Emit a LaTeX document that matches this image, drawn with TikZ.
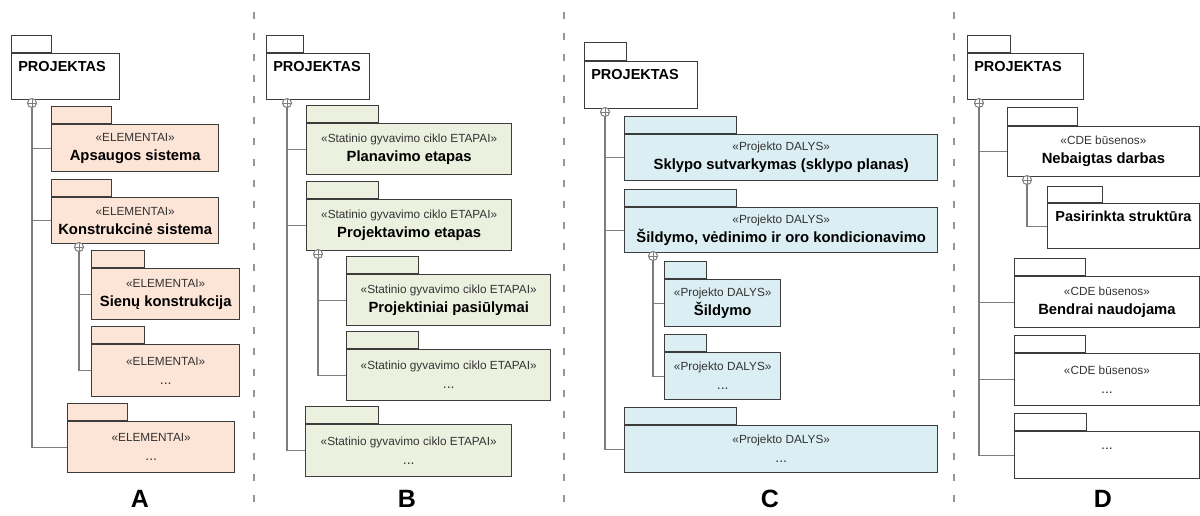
\documentclass[tikz,border=0pt]{standalone}
\usepackage{fontspec}
\setmainfont{Liberation Sans}
\usetikzlibrary{positioning}
\definecolor{elemfill}{RGB}{252,228,214}
\definecolor{etapfill}{RGB}{235,241,222}
\definecolor{dalfill}{RGB}{218,238,243}
\definecolor{pkgline}{RGB}{60,60,60}
\definecolor{linkline}{RGB}{125,125,125}
\definecolor{sepline}{RGB}{150,150,150}
\newcommand{\pkgname}[1]{{\fontsize{14.8}{19}\selectfont\bfseries\color{black}#1}}
\newcommand{\pkgdots}{{\fontsize{14}{19}\selectfont ...}}

\begin{document}
\begin{tikzpicture}[x=1pt,y=-1pt,semithick,font=\fontsize{11.8}{19}\selectfont]
	\tikzstyle{pkgbody}=[draw=pkgline,fill=white,line width=1.4pt,anchor=north west,inner sep=0pt,align=center,text=black!80]
	\tikzstyle{pkgtab}=[draw=pkgline,fill=white,line width=1.4pt,inner sep=0pt,minimum height=17pt]
	\tikzstyle{rootname}=[font=\fontsize{14.5}{18}\selectfont\bfseries,inner sep=0pt]
	\tikzstyle{oplus}=[circle,draw=linkline,fill=white,line width=1pt,inner sep=0pt,minimum size=9pt,
		path picture={\draw[linkline,line width=0.8pt] (path picture bounding box.north) -- (path picture bounding box.south)
			(path picture bounding box.west) -- (path picture bounding box.east);}]
	\tikzstyle{branch}=[draw=linkline,line width=1.2pt]
	\tikzstyle{divider}=[draw=sepline,line width=1.2pt,dash pattern=on 7pt off 14pt]
	\tikzstyle{panelname}=[font=\fontsize{25}{28}\selectfont\bfseries,inner sep=0pt]
	
	\useasboundingbox (0,0) rectangle (1200,515);
	
	\draw[divider] (254,12) -- (254,505);
	\draw[divider] (564,12) -- (564,505);
	\draw[divider] (954,12) -- (954,505);
	
	% A
	\node[pkgbody,minimum width=108pt,minimum height=46pt] (pA) at (11,53) {};
	\node[pkgtab,minimum width=40pt]   (pAt) [above right=0pt of pA.north west] {};
	\node[rootname]                    (pAn) [below right=8pt and 7pt of pA.north west] {PROJEKTAS};
	\node[pkgbody,fill=elemfill,minimum width=167pt,minimum height=47pt] (a1) at (51,124) {«ELEMENTAI»\\\pkgname{Apsaugos sistema}};
	\node[pkgtab,fill=elemfill,minimum width=60pt] (a1t) [above right=0pt of a1.north west] {};
	\node[pkgbody,fill=elemfill,minimum width=167pt,minimum height=46pt] (a2) at (51,197) {«ELEMENTAI»\\\pkgname{Konstrukcinė sistema}};
	\node[pkgtab,fill=elemfill,minimum width=60pt] (a2t) [above right=0pt of a2.north west] {};
	\node[pkgbody,fill=elemfill,minimum width=148pt,minimum height=51pt] (a3) at (91,268) {«ELEMENTAI»\\\pkgname{Sienų konstrukcija}};
	\node[pkgtab,fill=elemfill,minimum width=53pt] (a3t) [above right=0pt of a3.north west] {};
	\node[pkgbody,fill=elemfill,minimum width=148pt,minimum height=52pt] (a4) at (91,344) {«ELEMENTAI»\\\pkgdots};
	\node[pkgtab,fill=elemfill,minimum width=53pt] (a4t) [above right=0pt of a4.north west] {};
	\node[pkgbody,fill=elemfill,minimum width=167pt,minimum height=51pt] (a5) at (67,421) {«ELEMENTAI»\\\pkgdots};
	\node[pkgtab,fill=elemfill,minimum width=60pt] (a5t) [above right=0pt of a5.north west] {};
	\draw[branch] (32,103) |- (a1.west) (32,103) |- (a2.west) (32,103) |- (a5.west);
	\draw[branch] (79,247) |- (a3.west) (79,247) |- (a4.west);
	\node[oplus] (qA)  at (32,103) {};
	\node[oplus] (qA2) at (79,247) {};
	\node[panelname] (labA) at (140,499) {A};
	
	% B
	\node[pkgbody,minimum width=103pt,minimum height=46pt] (pB) at (266,53) {};
	\node[pkgtab,minimum width=37pt]   (pBt) [above right=0pt of pB.north west] {};
	\node[rootname]                    (pBn) [below right=8pt and 7pt of pB.north west] {PROJEKTAS};
	\node[pkgbody,fill=etapfill,minimum width=205pt,minimum height=51pt] (b1) at (306,123) {«Statinio gyvavimo ciklo ETAPAI»\\\pkgname{Planavimo etapas}};
	\node[pkgtab,fill=etapfill,minimum width=72pt] (b1t) [above right=0pt of b1.north west] {};
	\node[pkgbody,fill=etapfill,minimum width=205pt,minimum height=51pt] (b2) at (306,199) {«Statinio gyvavimo ciklo ETAPAI»\\\pkgname{Projektavimo etapas}};
	\node[pkgtab,fill=etapfill,minimum width=72pt] (b2t) [above right=0pt of b2.north west] {};
	\node[pkgbody,fill=etapfill,minimum width=204pt,minimum height=51pt] (b3) at (346,274) {«Statinio gyvavimo ciklo ETAPAI»\\\pkgname{Projektiniai pasiūlymai}};
	\node[pkgtab,fill=etapfill,minimum width=72pt] (b3t) [above right=0pt of b3.north west] {};
	\node[pkgbody,fill=etapfill,minimum width=204pt,minimum height=51pt] (b4) at (346,349) {«Statinio gyvavimo ciklo ETAPAI»\\\pkgdots};
	\node[pkgtab,fill=etapfill,minimum width=72pt] (b4t) [above right=0pt of b4.north west] {};
	\node[pkgbody,fill=etapfill,minimum width=206pt,minimum height=52pt] (b5) at (305,424) {«Statinio gyvavimo ciklo ETAPAI»\\\pkgdots};
	\node[pkgtab,fill=etapfill,minimum width=73pt] (b5t) [above right=0pt of b5.north west] {};
	\draw[branch] (287,103) |- (b1.west) (287,103) |- (b2.west) (287,103) |- (b5.west);
	\draw[branch] (318,254) |- (b3.west) (318,254) |- (b4.west);
	\node[oplus] (qB)  at (287,103) {};
	\node[oplus] (qB2) at (318,254) {};
	\node[panelname] (labB) at (407,499) {B};
	
	% C
	\node[pkgbody,minimum width=113pt,minimum height=47pt] (pC) at (584,61) {};
	\node[pkgtab,minimum width=42pt,minimum height=18pt] (pCt) [above right=0pt of pC.north west] {};
	\node[rootname]                    (pCn) [below right=8pt and 7pt of pC.north west] {PROJEKTAS};
	\node[pkgbody,fill=dalfill,minimum width=313pt,minimum height=46pt] (c1) at (624,134) {«Projekto DALYS»\\\pkgname{Sklypo sutvarkymas (sklypo planas)}};
	\node[pkgtab,fill=dalfill,minimum width=112pt] (c1t) [above right=0pt of c1.north west] {};
	\node[pkgbody,fill=dalfill,minimum width=313pt,minimum height=45pt] (c2) at (624,207) {«Projekto DALYS»\\\pkgname{Šildymo, vėdinimo ir oro kondicionavimo}};
	\node[pkgtab,fill=dalfill,minimum width=112pt] (c2t) [above right=0pt of c2.north west] {};
	\node[pkgbody,fill=dalfill,minimum width=116pt,minimum height=47pt] (c3) at (664,279) {«Projekto DALYS»\\\pkgname{Šildymo}};
	\node[pkgtab,fill=dalfill,minimum width=42pt] (c3t) [above right=0pt of c3.north west] {};
	\node[pkgbody,fill=dalfill,minimum width=116pt,minimum height=47pt] (c4) at (664,352) {«Projekto DALYS»\\\pkgdots};
	\node[pkgtab,fill=dalfill,minimum width=42pt] (c4t) [above right=0pt of c4.north west] {};
	\node[pkgbody,fill=dalfill,minimum width=313pt,minimum height=47pt] (c5) at (624,425) {«Projekto DALYS»\\\pkgdots};
	\node[pkgtab,fill=dalfill,minimum width=112pt] (c5t) [above right=0pt of c5.north west] {};
	\draw[branch] (605,112) |- (c1.west) (605,112) |- (c2.west) (605,112) |- (c5.west);
	\draw[branch] (653,256) |- (c3.west) (653,256) |- (c4.west);
	\node[oplus] (qC)  at (605,112) {};
	\node[oplus] (qC2) at (653,256) {};
	\node[panelname] (labC) at (770,499) {C};
	
	% D
	\node[pkgbody,minimum width=116pt,minimum height=46pt] (pD) at (967,53) {};
	\node[pkgtab,minimum width=43pt]   (pDt) [above right=0pt of pD.north west] {};
	\node[rootname]                    (pDn) [below right=8pt and 7pt of pD.north west] {PROJEKTAS};
	\node[pkgbody,minimum width=191.5pt,minimum height=50pt] (d1) at (1007,126) {«CDE būsenos»\\\pkgname{Nebaigtas darbas}};
	\node[pkgtab,minimum width=70pt,minimum height=18pt] (d1t) [above right=0pt of d1.north west] {};
	\node[pkgbody,minimum width=151.5pt,minimum height=45pt] (d2) at (1047,203) {};
	\node[pkgtab,minimum width=55pt,minimum height=16pt] (d2t) [above right=0pt of d2.north west] {};
	\node[rootname]                    (d2n) [below=8pt of d2.north] {Pasirinkta struktūra};
	\node[pkgbody,minimum width=184.5pt,minimum height=51pt] (d3) at (1014,276) {«CDE būsenos»\\\pkgname{Bendrai naudojama}};
	\node[pkgtab,minimum width=71pt] (d3t) [above right=0pt of d3.north west] {};
	\node[pkgbody,minimum width=184.5pt,minimum height=52pt] (d4) at (1014,353) {«CDE būsenos»\\\pkgdots};
	\node[pkgtab,minimum width=71pt] (d4t) [above right=0pt of d4.north west] {};
	\node[pkgbody,minimum width=184.5pt,minimum height=47pt] (d5) at (1014,431) {};
	\node[pkgtab,minimum width=72pt] (d5t) [above right=0pt of d5.north west] {};
	\node[inner sep=0pt,text=black!80] (d5n) [below=17pt of d5.north] {\pkgdots};
	\draw[branch] (979,103) |- (d1.west) (979,103) |- (d3.west) (979,103) |- (d4.west) (979,103) |- (d5.west);
	\draw[branch] (1027,180) |- (d2.west);
	\node[oplus] (qD)  at (979,103) {};
	\node[oplus] (qD2) at (1027,180) {};
	\node[panelname] (labD) at (1103,499) {D};
\end{tikzpicture}
\end{document}
